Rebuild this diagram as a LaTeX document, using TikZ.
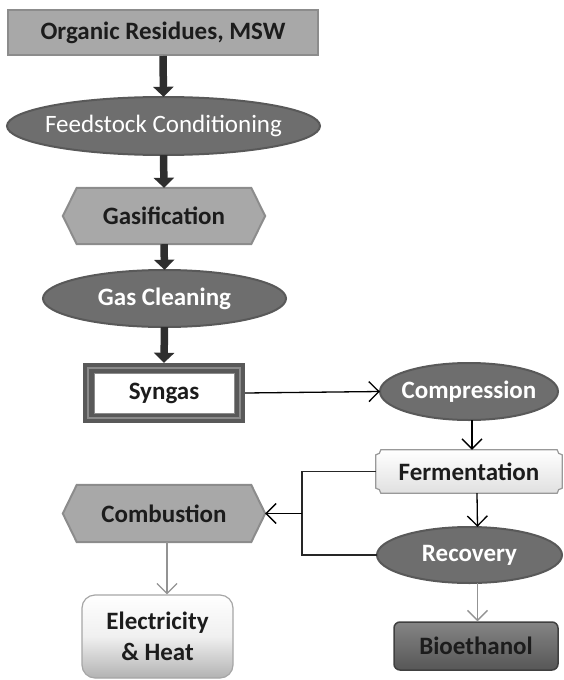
\documentclass[tikz,border=0pt]{standalone}
\usepackage{fontspec}
\setmainfont{Carlito}
\usetikzlibrary{arrows.meta,shapes.geometric,calc,backgrounds}

\definecolor{boxgray}{HTML}{A8A8A8}
\definecolor{boxedge}{HTML}{8C8C8C}
\definecolor{ovalgray}{HTML}{6E6E6E}
\definecolor{ovaledge}{HTML}{595959}
\definecolor{arrowdark}{HTML}{2E2E2E}
\definecolor{txt}{HTML}{1C1C1C}
\definecolor{syndark}{HTML}{595959}
\definecolor{synmid}{HTML}{8A8A8A}

\begin{document}
\begin{tikzpicture}[x=1pt,y=1pt,
  lbl/.style={font=\bfseries\fontsize{25}{28}\selectfont, text=txt, inner sep=0pt},
  oval/.style={lbl, text=white},
  ovalbg/.style={fill=ovalgray, draw=ovaledge, line width=2pt},
  thick arrow/.style={draw=arrowdark, line width=7.5pt,
    -{Triangle[width=20pt,length=10pt]}},
  thin arrow/.style={draw=black, line width=1.3pt,
    -{Straight Barb[length=10pt,width=20pt]}},
  grey arrow/.style={draw=gray!85, line width=1.3pt,
    -{Straight Barb[length=10pt,width=20pt]}},
  branch/.style={draw=black!85, line width=1.3pt},
]
\useasboundingbox (0,0) rectangle (564,-680);

% ---- main chain ----
\node[lbl, rectangle, fill=boxgray, draw=boxedge, line width=2pt,
  minimum width=310pt, minimum height=45pt] (org) at (163,-32.5) {Organic Residues, MSW};

\node[oval, minimum width=313pt, minimum height=58pt, font=\fontsize{25}{28}\selectfont]
  (feed) at (163.5,-126) {Feedstock Conditioning};

\node[lbl, minimum width=202pt, minimum height=56pt] (gas) at (164,-216) {Gasification};

\node[oval, minimum width=243pt, minimum height=57pt] (clean) at (164.5,-298.5) {Gas Cleaning};

\node[lbl, minimum width=162pt, minimum height=60pt] (syn) at (164,-393) {Syngas};

% ---- right column ----
\node[oval, minimum width=178pt, minimum height=57pt] (comp) at (469,-391.5) {Compression};

\node[lbl, minimum width=186pt, minimum height=43pt] (ferm) at (469,-471.5) {Fermentation};

\node[oval, minimum width=185pt, minimum height=56pt] (rec) at (469.5,-555) {Recovery};

\node[lbl, rectangle, rounded corners=6pt, draw=black!75, line width=1.5pt,
  top color=black!48, bottom color=black!66, minimum width=164pt, minimum height=48pt]
  (bio) at (476,-646) {Bioethanol};

% ---- left outputs ----
\node[lbl, minimum width=202pt, minimum height=57pt] (comb) at (164,-513.5) {Combustion};

\node[lbl, rectangle, rounded corners=13pt, draw=black!35, line width=1.2pt,
  top color=white, bottom color=black!30, middle color=black!6,
  minimum width=151pt, minimum height=83pt, align=center]
  (elec) at (157.5,-636.5) {Electricity\\[3pt]\& Heat};

% ---- outlines drawn behind the labels ----
\begin{scope}[on background layer]
  % ovals fill their label boxes
  \foreach \o/\rx/\ry in {feed/156.5/29, clean/121.5/28.5, comp/89/28.5, rec/92.5/28}{
    \draw[ovalbg] (\o.center) ellipse [x radius=\rx, y radius=\ry];
  }
  % hexagons
  \foreach \h in {gas,comb}{
    \draw[fill=boxgray, draw=boxedge, line width=2pt]
      (\h.west) -- ($(\h.north west)+(14,0)$) -- ($(\h.north east)+(-14,0)$)
      -- (\h.east) -- ($(\h.south east)+(-14,0)$) -- ($(\h.south west)+(14,0)$) -- cycle;
  }
  % double-framed syngas box
  \fill[syndark] (syn.south west) rectangle (syn.north east);
  \draw[synmid, line width=2pt] ($(syn.south west)+(5.5,5.5)$) rectangle ($(syn.north east)+(-5.5,-5.5)$);
  \draw[fill=white, draw=black!45, line width=0.8pt]
    ($(syn.south west)+(12,10)$) rectangle ($(syn.north east)+(-11,-11)$);
  % fermentation plaque with notched corners
  \draw[draw=black!40, line width=1.2pt, top color=white, bottom color=black!12]
    ($(ferm.north west)+(5,0)$) -- ($(ferm.north east)+(-5,0)$)
      arc[start angle=180,end angle=270,radius=5]
    -- ($(ferm.south east)+(0,5)$) arc[start angle=90,end angle=180,radius=5]
    -- ($(ferm.south west)+(5,0)$) arc[start angle=0,end angle=90,radius=5]
    -- ($(ferm.north west)+(0,-5)$) arc[start angle=270,end angle=360,radius=5]
    -- cycle;
\end{scope}

% ---- connectors ----
\draw[thick arrow] (org.south) -- (feed.north);
\draw[thick arrow] (feed.south) -- (gas.north);
\draw[thick arrow] (gas.south) -- (clean.north);
\draw[thick arrow] (clean.south) -- (syn.north);

\draw[thin arrow] (syn.east) -- (comp.west);
\draw[thin arrow] ([xshift=3pt]comp.south) -- ([xshift=3pt]ferm.north);
\draw[thin arrow] ([xshift=8pt]ferm.south) -- ([xshift=8pt]rec.north);

\coordinate (split) at (302,-513.5);
\draw[branch] (ferm.west) -| (split) |- (rec.west);
\draw[thin arrow] (split) -- (comb.east);

\draw[grey arrow] ([xshift=3pt]comb.south) -- ([xshift=3pt]comb.south |- elec.north);
\draw[grey arrow] ([xshift=8pt]rec.south) -- ([xshift=8pt]rec.south |- bio.north);
\end{tikzpicture}
\end{document}
